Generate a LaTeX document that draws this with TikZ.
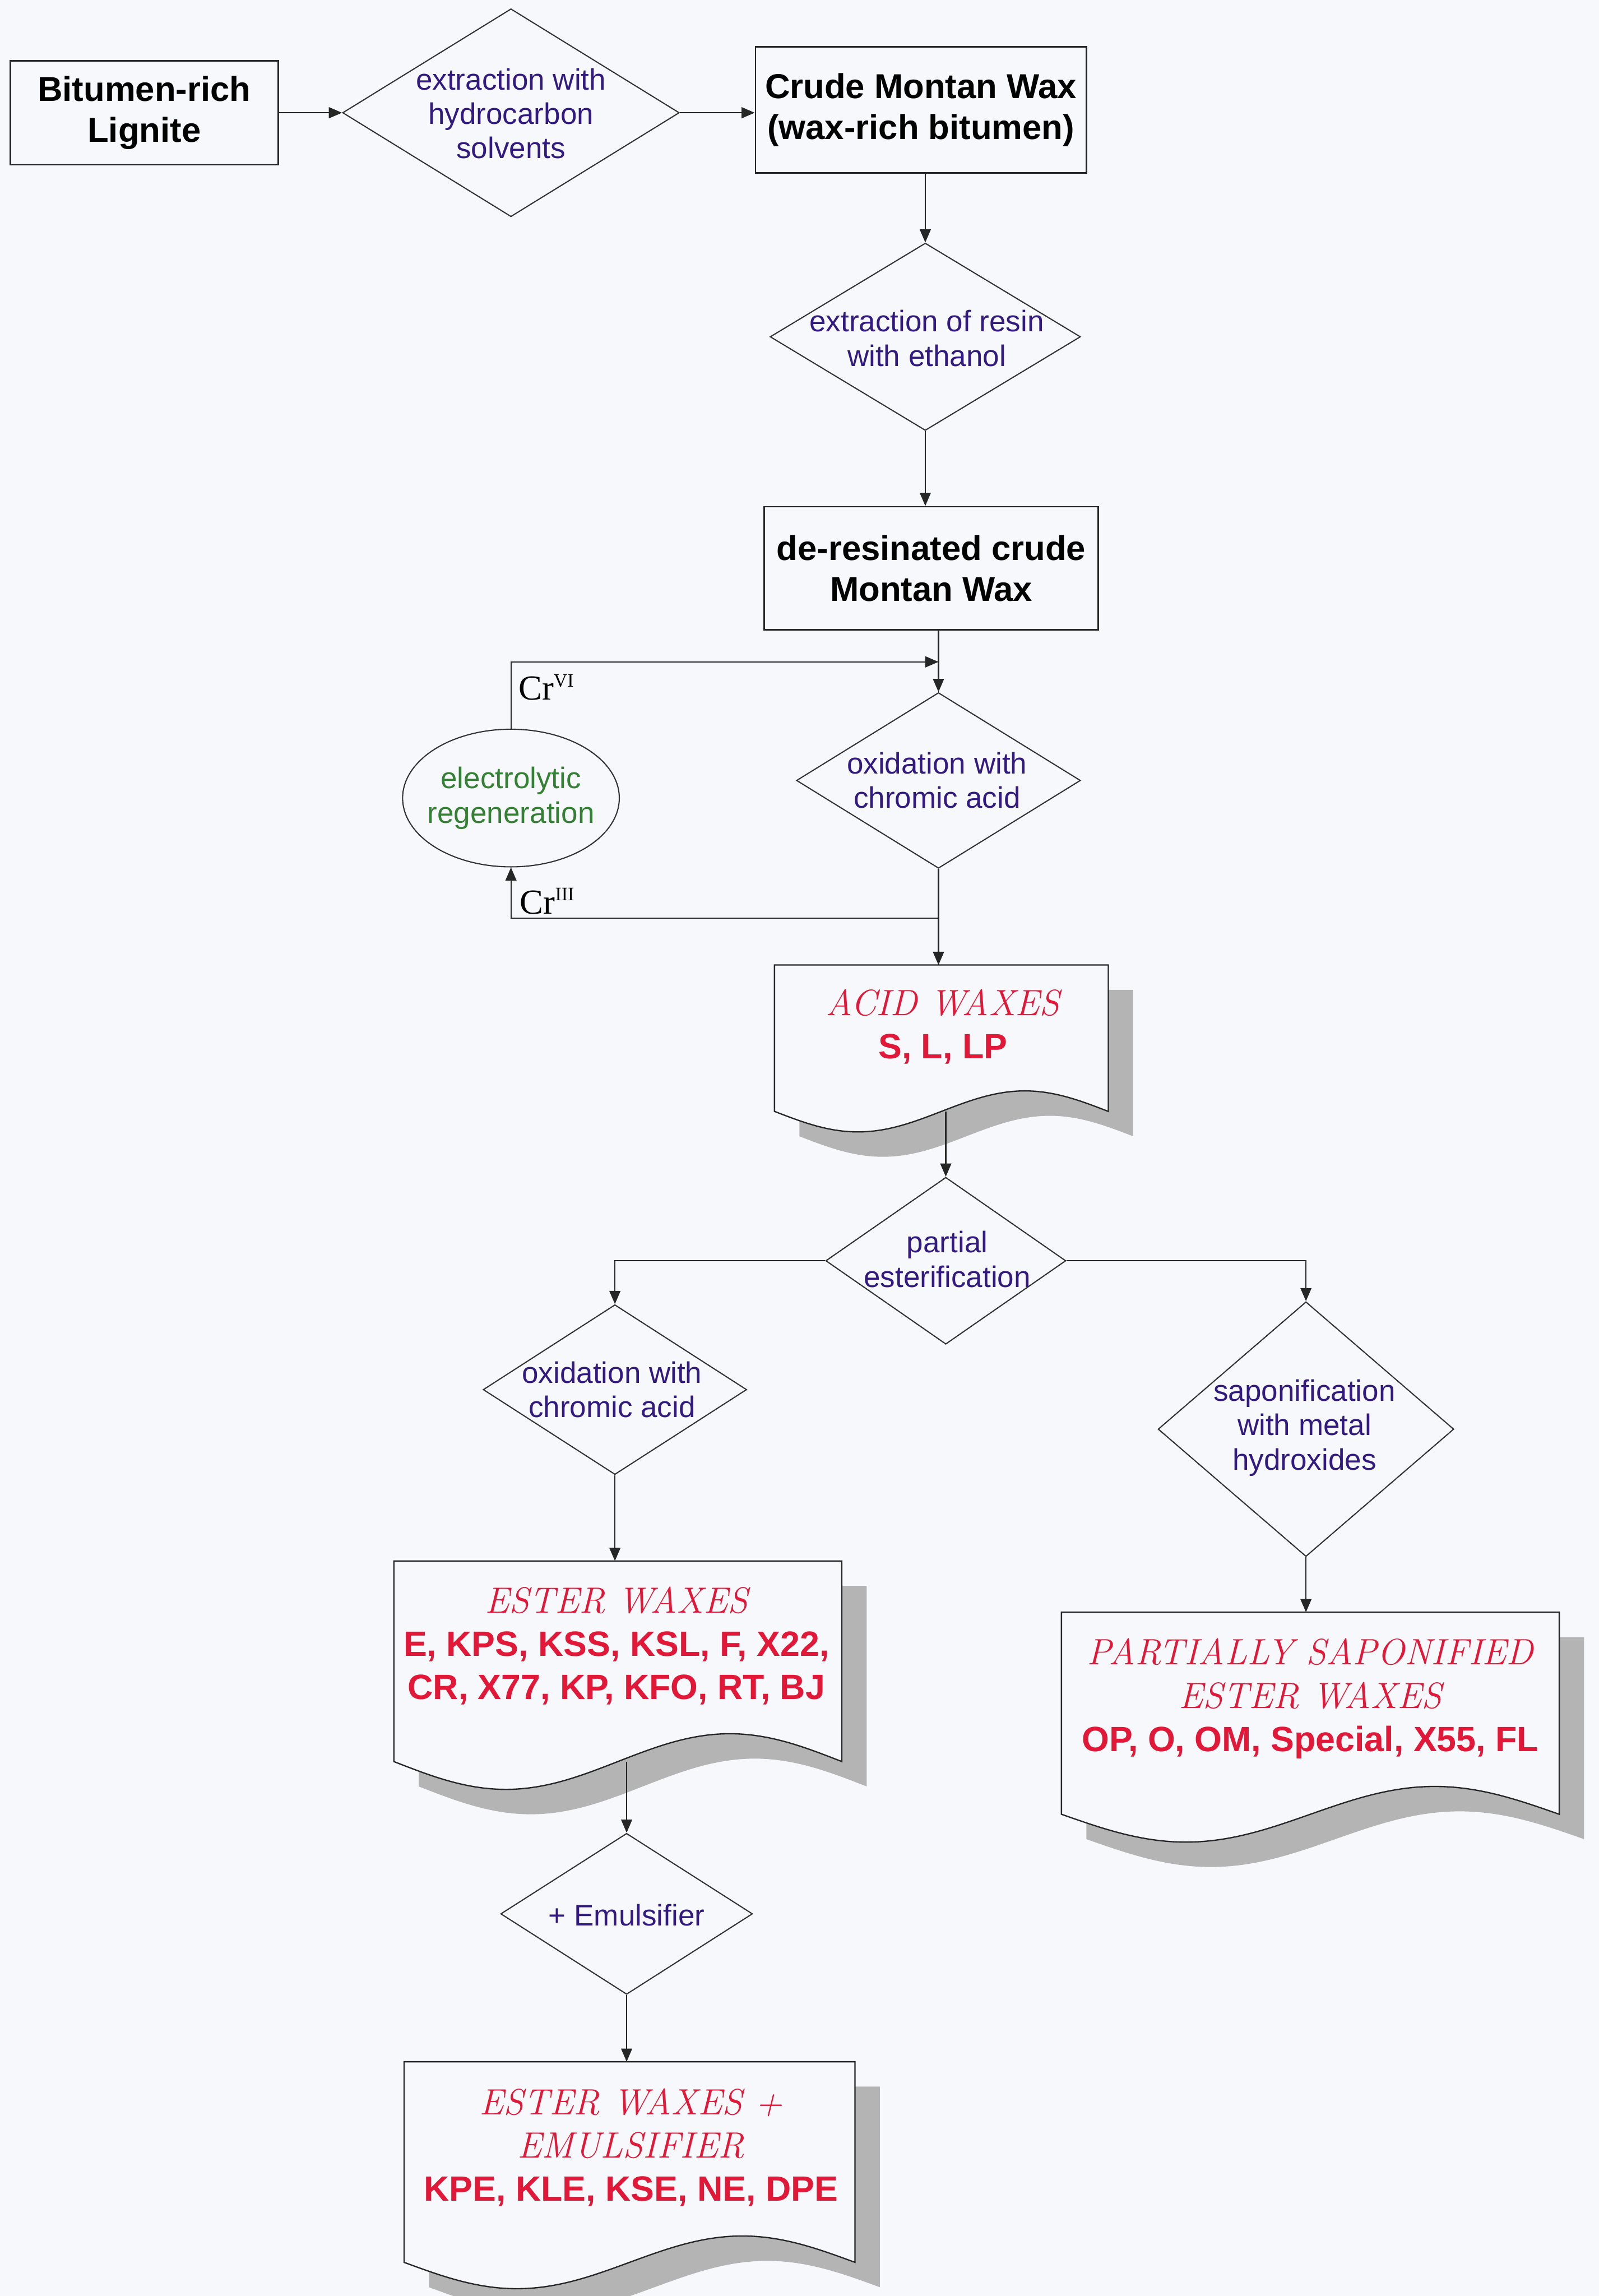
\documentclass[tikz,border=0pt]{standalone}
\usepackage{fontspec}
\newfontfamily\arial{Liberation Sans}
\newfontfamily\tnr{Liberation Serif}
\usetikzlibrary{shapes.geometric,arrows.meta}
\definecolor{cblue}{RGB}{50,26,128}
\definecolor{cred}{RGB}{226,24,56}
\definecolor{cgreen}{RGB}{52,128,52}
\definecolor{bgc}{RGB}{247,248,251}
\definecolor{shd}{RGB}{180,180,180}
\newcommand\scr[1]{{\rmfamily\itshape\fontsize{25}{29.5}\selectfont #1}}
\newcommand\rb[1]{{\arial\bfseries #1}}
\newcommand\crsup[1]{\raisebox{9pt}{\fontsize{13}{13}\selectfont #1}}
\begin{document}
\begin{tikzpicture}[x=1pt,y=-1pt,
  box/.style={draw=black!85,line width=1pt,rectangle,inner sep=0pt,align=center,
    font=\arial\bfseries\fontsize{23.6}{28}\selectfont},
  dia/.style={draw=black!80,line width=0.8pt,diamond,inner sep=0pt},
  blu/.style={text=cblue,align=center,inner sep=0pt,font=\arial\fontsize{20.3}{23.5}\selectfont},
  grn/.style={text=cgreen,align=center,inner sep=0pt,font=\arial\fontsize{20.3}{24}\selectfont},
  doctx/.style={text=cred,align=center,inner sep=0pt,font=\fontsize{24}{29.5}\selectfont},
  docline/.style={draw=black!85,line width=0.9pt,fill=bgc},
  shadow/.style={fill=shd},
  con/.style={draw=black!85,line width=0.9pt},
  arr/.style={con,-{Triangle[length=9pt,width=7.5pt]}},
  crlab/.style={anchor=base west,inner sep=0pt,font=\tnr\fontsize{24}{24}\selectfont}
]
\fill[bgc] (0,0) rectangle (1092,1568);
\useasboundingbox (0,0) rectangle (1092,1568);

% top row
\node[box,minimum width=183pt,minimum height=71pt] (bit) at (98.5,77) {Bitumen-rich\\Lignite};
\node[dia,minimum width=230pt,minimum height=142pt] (d1) at (349,77) {};
\node[blu] (d1t) at (349,77.5) {extraction with\\hydrocarbon\\solvents};
\node[box,minimum width=226pt,minimum height=86pt] (crude) at (629,75) {Crude Montan Wax\\(wax-rich bitumen)};

\node[dia,minimum width=212pt,minimum height=128pt] (d2) at (632,230) {};
\node[blu] (d2t) at (633,231) {extraction of resin\\with ethanol};
\node[box,minimum width=228pt,minimum height=84pt] (deres) at (636,388) {de-resinated crude\\Montan Wax};

\node[dia,minimum width=194pt,minimum height=120pt] (d3) at (641,533) {};
\node[blu] (d3t) at (640,533) {oxidation with\\chromic acid};

\node[draw=black!80,line width=0.8pt,ellipse,minimum width=148pt,minimum height=94pt,inner sep=0pt] (ell) at (349,545) {};
\node[grn] (ellt) at (349,545) {electrolytic\\regeneration};

\coordinate (j1) at (641,452);
\coordinate (j2) at (641,627);
\node[crlab] (crvi) at (354,478) {Cr\crsup{VI}};
\node[crlab] (criii) at (355,624) {Cr\crsup{III}};

% ACID WAXES document
\fill[shadow] (546,676) -- (774,676) -- (774,776) sin (717,762) cos (660,776) sin (603,790) cos (546,776) -- cycle;
\path[docline] (529,659) -- (757,659) -- (757,759) sin (700,745) cos (643,759) sin (586,773) cos (529,759) -- cycle;
\node[doctx] (acid) at (644,701) {\scr{ACID WAXES}\\\rb{S, L, LP}};
\coordinate (acidT) at (641,659);
\coordinate (acidB) at (646,759);

\node[dia,minimum width=164pt,minimum height=114pt] (d4) at (646,861) {};
\node[blu] (d4t) at (647,860) {partial\\esterification};

\node[dia,minimum width=180pt,minimum height=116pt] (d5) at (420,949) {};
\node[blu] (d5t) at (418,949) {oxidation with\\chromic acid};

\node[dia,minimum width=202pt,minimum height=174pt] (d6) at (892,976) {};
\node[blu] (d6t) at (891,975) {saponification\\with metal\\hydroxides};

% ESTER WAXES document
\fill[shadow] (286,1083) -- (592,1083) -- (592,1220) sin (515.5,1201) cos (439,1220) sin (362.5,1239) cos (286,1220) -- cycle;
\path[docline] (269,1066) -- (575,1066) -- (575,1203) sin (498.5,1184) cos (422,1203) sin (345.5,1222) cos (269,1203) -- cycle;
\node[doctx] (ester) at (421,1124) {\scr{ESTER WAXES}\\\rb{E, KPS, KSS, KSL, F, X22,}\\\rb{CR, X77, KP, KFO, RT, BJ}};
\coordinate (esterT) at (420,1066);
\coordinate (esterB) at (428,1203);

% PARTIALLY SAPONIFIED document
\fill[shadow] (742,1118) -- (1082,1118) -- (1082,1256) sin (997,1237) cos (912,1256) sin (827,1275) cos (742,1256) -- cycle;
\path[docline] (725,1101) -- (1065,1101) -- (1065,1239) sin (980,1220) cos (895,1239) sin (810,1258) cos (725,1239) -- cycle;
\node[doctx] (pse) at (895,1160) {\scr{PARTIALLY SAPONIFIED}\\\scr{ESTER WAXES}\\\rb{OP, O, OM, Special, X55, FL}};
\coordinate (pseT) at (892,1101);

\node[dia,minimum width=172pt,minimum height=110pt] (d7) at (428,1307) {};
\node[blu] (d7t) at (428,1308) {+ Emulsifier};

% final document
\fill[shadow] (293,1425) -- (601,1425) -- (601,1562) sin (524,1544) cos (447,1562) sin (370,1580) cos (293,1562) -- cycle;
\path[docline] (276,1408) -- (584,1408) -- (584,1545) sin (507,1527) cos (430,1545) sin (353,1563) cos (276,1545) -- cycle;
\node[doctx] (fin) at (431,1466.5) {\scr{ESTER WAXES +}\\\scr{EMULSIFIER}\\\rb{KPE, KLE, KSE, NE, DPE}};
\coordinate (finT) at (428,1408);

% connectors
\draw[arr] (bit.east) -- (d1.west);
\draw[arr] (d1.east) -- (d1.east -| crude.west);
\draw[arr] (crude.south -| d2.north) -- (d2.north);
\draw[arr] (d2.south) -- (d2.south |- deres.north);
\draw[arr] (deres.south -| d3.north) -- (d3.north);
\draw[arr] (ell.north) |- (j1);
\draw[arr] (d3.south) -- (acidT);
\draw[arr] (j2) -| (ell.south);
\draw[arr] (acidB) -- (d4.north);
\draw[arr] (d4.west) -| (d5.north);
\draw[arr] (d4.east) -| (d6.north);
\draw[arr] (d5.south) -- (esterT);
\draw[arr] (d6.south) -- (pseT);
\draw[arr] (esterB) -- (d7.north);
\draw[arr] (d7.south) -- (finT);
\end{tikzpicture}
\end{document}
